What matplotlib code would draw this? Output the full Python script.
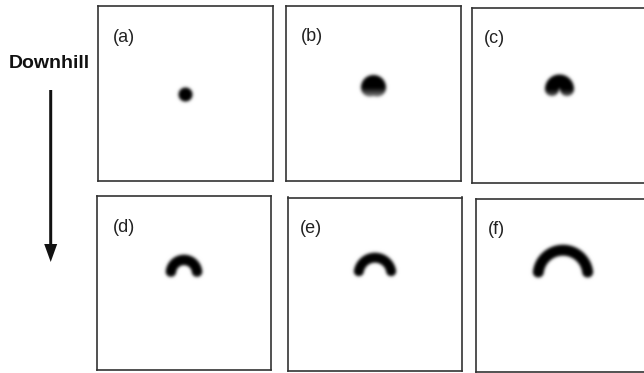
import numpy as np
import matplotlib
matplotlib.use("Agg")
import matplotlib.pyplot as plt
from matplotlib.patches import FancyArrow

# ---- data (pixel units, relative to panel centre) ----
panel_labels = ["(a)", "(b)", "(c)", "(d)", "(e)", "(f)"]
arc_radius = [0.0, 3.5, 7.5, 13.2, 16.5, 25.0]        # radius of the arc centre-line
arc_half_angle = [0, 92, 90, 84, 80, 83]              # degrees from the top
stroke_width = [14.0, 18.0, 14.0, 10.5, 10.0, 11.0]   # thickness of the band
center_rise = [-1.0, 6.0, 6.5, 10.0, 10.0, 10.0]      # arc centre above panel centre
end_density = [1.0, 0.5, 0.65, 0.85, 0.88, 0.88]      # darkness at the lower ends
side_label = "Downhill"

# ---- layout ----
W, H = 644, 373
boxes = [  # left, top, width, height in pixels
    (98.0, 5.7, 174.7, 175.6),
    (285.7, 6.3, 176.0, 175.0),
    (471.7, 8.3, 175.0, 175.0),
    (97.0, 196.0, 174.0, 174.0),
    (287.7, 197.5, 173.8, 173.8),
    (474.7, 199.0, 175.0, 173.3),
]
label_off = [(15, 31), (15, 30.5), (12, 30), (16, 32), (12, 31), (12, 31)]
HALF = 87.5
RES = 0.5
SIGMA = 1.5

fig = plt.figure(figsize=(W / 100, H / 100), dpi=100)
fig.patch.set_facecolor("white")

# overlay axes in pixel coordinates for the side label and arrow
ax0 = fig.add_axes([0, 0, 1, 1])
ax0.set_xlim(0, W)
ax0.set_ylim(H, 0)
ax0.axis("off")
ax0.text(49.2, 68.3, side_label, ha="center", va="baseline", fontsize=14,
         fontweight="bold", family=["Liberation Sans", "DejaVu Sans"], color="#111111")
ax0.add_patch(FancyArrow(50.7, 90, 0, 172, width=3, head_width=13, head_length=18,
                         length_includes_head=True, color="#111111", lw=0))

# grid for the blurred arcs
g = np.arange(-HALF + RES / 2, HALF, RES)
X, Y = np.meshgrid(g, g)


def gaussian_blur(img, sigma_px):
    s = sigma_px / RES
    r = int(np.ceil(4 * s))
    t = np.arange(-r, r + 1)
    k = np.exp(-0.5 * (t / s) ** 2)
    k /= k.sum()
    out = np.apply_along_axis(lambda m: np.convolve(m, k, mode="same"), 0, img)
    out = np.apply_along_axis(lambda m: np.convolve(m, k, mode="same"), 1, out)
    return out


def arc_field(R, ha_deg, width, rise, e):
    px = X
    py = Y - rise
    r = np.hypot(px, py)
    if R <= 0:
        d = r
        wgt = np.ones_like(r)
    else:
        ha = np.deg2rad(ha_deg)
        phi = np.arctan2(px, py)  # angle from +y (top)
        inside = np.abs(phi) <= ha
        ex, ey = R * np.sin(ha), R * np.cos(ha)
        d1 = np.hypot(px - ex, py - ey)
        d2 = np.hypot(px + ex, py - ey)
        d = np.where(inside, np.abs(r - R), np.minimum(d1, d2))
        wgt = 1 - (1 - e) * np.clip(-py / (width / 2), 0, 1)
    val = np.clip(width / 2 - d + 0.5, 0, 1) * wgt
    return gaussian_blur(val, SIGMA)


for i, (l, t, w, h) in enumerate(boxes):
    ax = fig.add_axes([l / W, 1 - (t + h) / H, w / W, h / H])
    field = arc_field(arc_radius[i], arc_half_angle[i], stroke_width[i],
                      center_rise[i], end_density[i])
    ax.imshow(field, cmap="gray_r", vmin=0, vmax=1, origin="lower",
              extent=(-HALF, HALF, -HALF, HALF), interpolation="bilinear")
    ax.set_xlim(-HALF, HALF)
    ax.set_ylim(-HALF, HALF)
    ax.set_xticks([])
    ax.set_yticks([])
    for sp in ax.spines.values():
        sp.set_linewidth(1.2)
        sp.set_color("#333333")
    dx, dy = label_off[i]
    ax.text(-HALF + dx, HALF - dy, panel_labels[i], ha="left", va="center",
            fontsize=13, family=["Liberation Sans", "DejaVu Sans"], color="#222222")

fig.savefig("out.png", dpi=100, facecolor="white")
